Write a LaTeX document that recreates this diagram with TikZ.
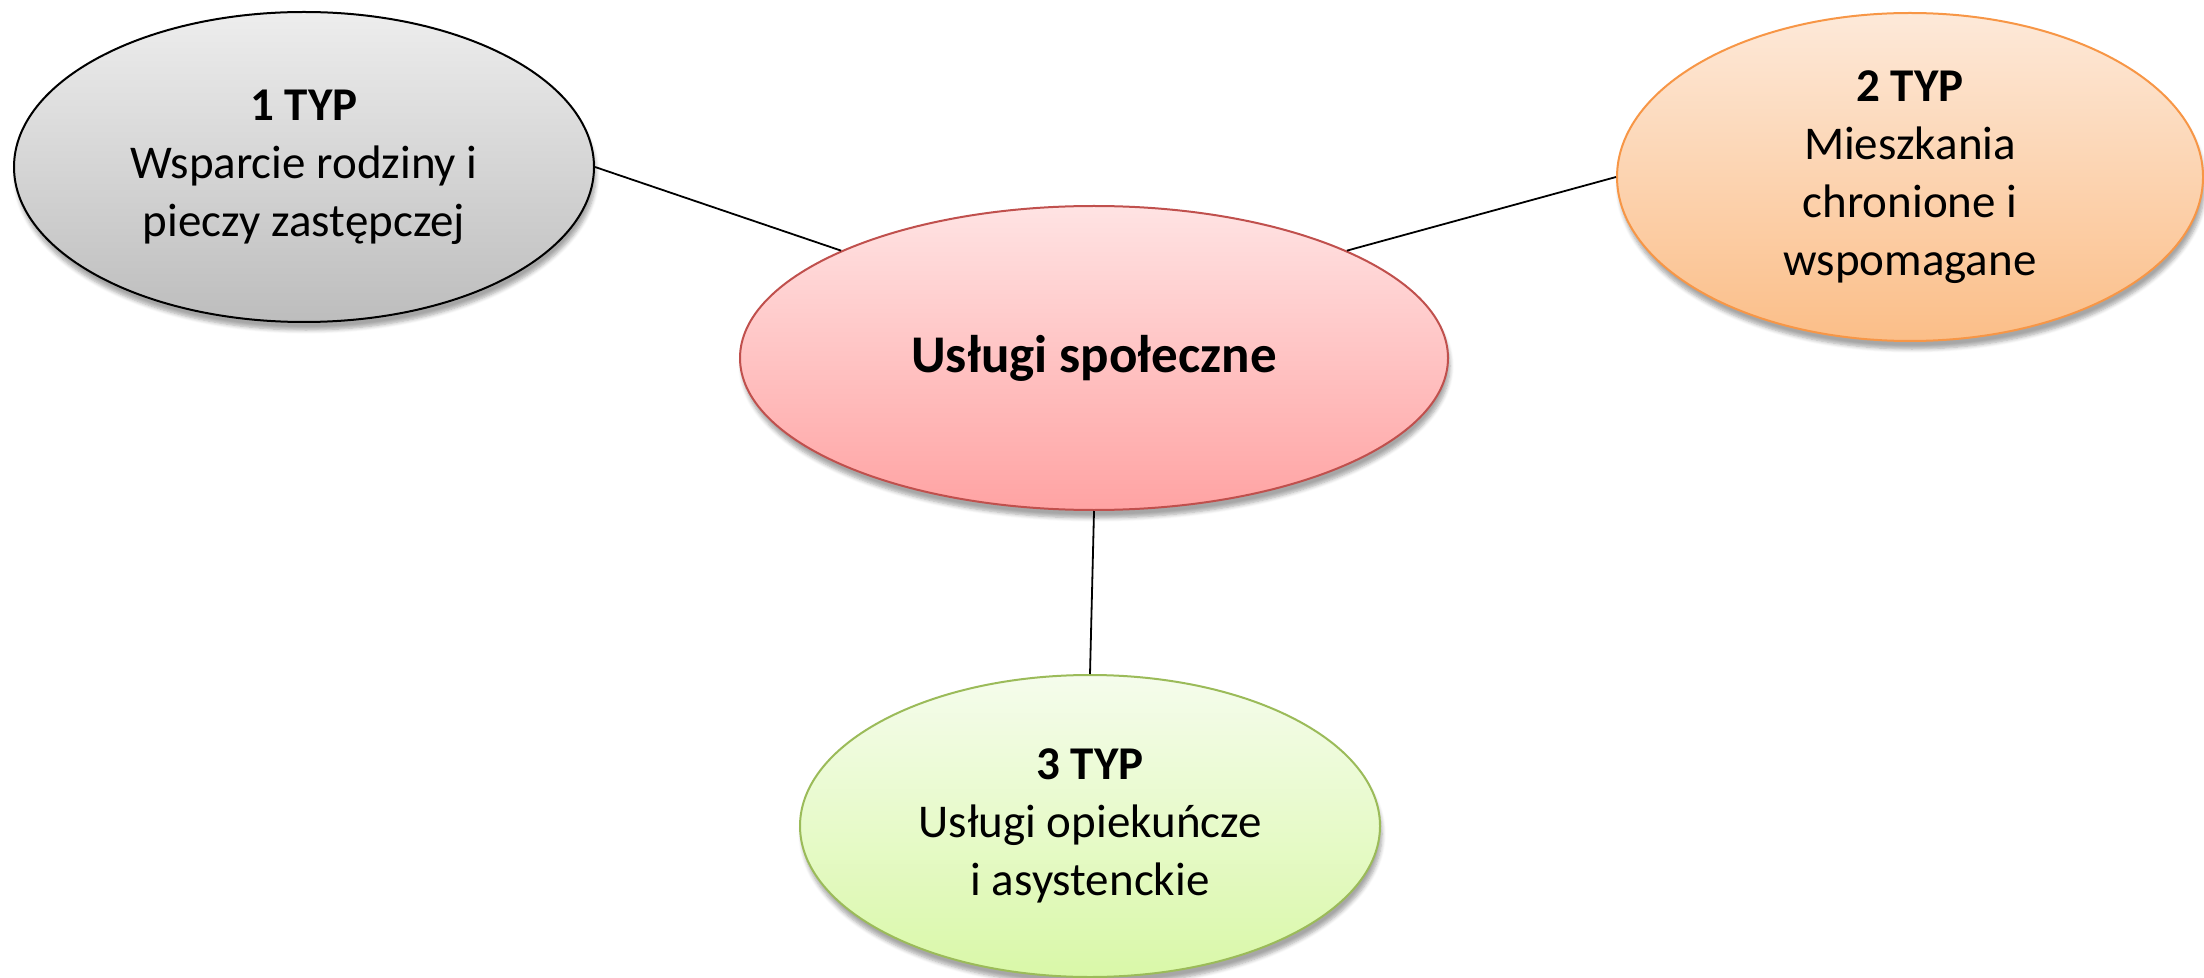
\documentclass[tikz,border=0pt]{standalone}
\usepackage{fontspec}
\setmainfont{Carlito}
\usetikzlibrary{shapes.geometric,shadows.blur}
\definecolor{greyTop}{HTML}{EDEDED}
\definecolor{greyBot}{HTML}{BDBDBD}
\definecolor{orTop}{HTML}{FDE9D9}
\definecolor{orBot}{HTML}{FBBE88}
\definecolor{orLine}{HTML}{F79646}
\definecolor{pkTop}{HTML}{FFE3E3}
\definecolor{pkBot}{HTML}{FFA3A3}
\definecolor{pkLine}{HTML}{C0504D}
\definecolor{grTop}{HTML}{F5FCEC}
\definecolor{grBot}{HTML}{D9F8A8}
\definecolor{grLine}{HTML}{9BBB59}
\begin{document}
\begin{tikzpicture}[x=0.5pt,y=-0.5pt,
  bubble/.style={ellipse, inner sep=0pt, line width=1pt, align=center,
    font=\fontsize{23.5}{29}\selectfont,
    blur shadow={shadow xshift=1pt, shadow yshift=-4pt, shadow blur steps=6, shadow opacity=35}},
  link/.style={draw=black, line width=0.9pt}]
\useasboundingbox (0,0) rectangle (2204,978);
\node[bubble, draw=black, top color=greyTop, bottom color=greyBot,
  minimum width=290pt, minimum height=155pt] (e1) at (304,167)
  {\textbf{1 TYP}\\Wsparcie rodziny i\\pieczy zastępczej};
\node[bubble, draw=orLine, top color=orTop, bottom color=orBot,
  minimum width=293pt, minimum height=164pt] (e2) at (1910,177)
  {\textbf{2 TYP}\\Mieszkania\\chronione i\\wspomagane};
\node[bubble, draw=pkLine, top color=pkTop, bottom color=pkBot,
  minimum width=354pt, minimum height=152pt,
  font=\fontsize{26.5}{31}\selectfont\bfseries] (c) at (1094,358)
  {Usługi społeczne};
\node[bubble, draw=grLine, top color=grTop, bottom color=grBot,
  minimum width=290pt, minimum height=151pt] (e3) at (1090,826)
  {\textbf{3 TYP}\\Usługi opiekuńcze\\i asystenckie};
\draw[link] (e1.east) -- (c.157);
\draw[link] (e2.west) -- (c.23);
\draw[link] (c.south) -- (e3.north);
\end{tikzpicture}
\end{document}
